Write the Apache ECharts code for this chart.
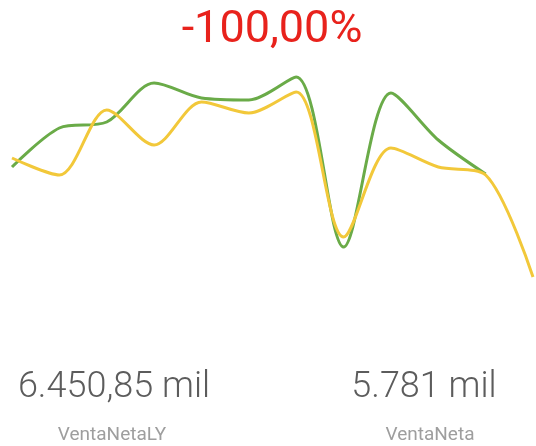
<!DOCTYPE html>
<html lang="es">
  <head>
    <meta charset="UTF-8" />
    <title>VentaNeta</title>
    <script src="https://cdn.jsdelivr.net/npm/echarts@6/dist/echarts.min.js"></script>
    <style>
      html, body { margin: 0; padding: 0; background: #fff; }
    </style>
  </head>
  <body>
    <div id="main" style="width: 536px; height: 446px;"></div>
    <script type="text/javascript">
      // datos
      var periodos = ["1", "2", "3", "4", "5", "6", "7", "8", "9", "10", "11", "12"];
      var ventaNetaLY = [113, 152, 158, 197, 182, 180, 203, 33, 187, 140, 106, null];
      var ventaNeta = [122, 105, 170, 135, 178, 167, 188, 43, 132, 113, 105, 3];

      var kpiTexto = "-100,00%";
      var totalLY = "6.450,85 mil";
      var totalActual = "5.781 mil";
      var nombreLY = "VentaNetaLY";
      var nombreActual = "VentaNeta";

      var myChart = echarts.init(document.getElementById("main"));

      var option = {
        animation: false,
        grid: {
          left: 12,
          right: 3,
          top: 60,
          height: 220
        },
        xAxis: {
          type: "category",
          boundaryGap: false,
          data: periodos,
          show: false
        },
        yAxis: {
          type: "value",
          min: 0,
          max: 220,
          show: false
        },
        series: [
          {
            name: nombreLY,
            type: "line",
            smooth: 0.3,
            symbol: "none",
            data: ventaNetaLY,
            lineStyle: { color: "#6aab48", width: 3 },
            z: 2
          },
          {
            name: nombreActual,
            type: "line",
            smooth: 0.3,
            symbol: "none",
            data: ventaNeta,
            lineStyle: { color: "#f2c83a", width: 3 },
            z: 3
          }
        ],
        graphic: [
          {
            type: "text",
            x: 272,
            y: 31,
            style: {
              text: kpiTexto,
              fill: "#e8221c",
              font: "45px Roboto",
              textAlign: "center",
              textVerticalAlign: "middle"
            }
          },
          {
            type: "text",
            x: 114,
            y: 388,
            style: {
              text: totalLY,
              fill: "#5c5c5c",
              font: "300 36px Roboto",
              textAlign: "center",
              textVerticalAlign: "middle"
            }
          },
          {
            type: "text",
            x: 424,
            y: 388,
            style: {
              text: totalActual,
              fill: "#5c5c5c",
              font: "300 36px Roboto",
              textAlign: "center",
              textVerticalAlign: "middle"
            }
          },
          {
            type: "text",
            x: 112,
            y: 435,
            style: {
              text: nombreLY,
              fill: "#9e9e9e",
              font: "19px Roboto",
              textAlign: "center",
              textVerticalAlign: "middle"
            }
          },
          {
            type: "text",
            x: 430,
            y: 435,
            style: {
              text: nombreActual,
              fill: "#9e9e9e",
              font: "19px Roboto",
              textAlign: "center",
              textVerticalAlign: "middle"
            }
          }
        ]
      };

      myChart.setOption(option);
    </script>
  </body>
</html>
